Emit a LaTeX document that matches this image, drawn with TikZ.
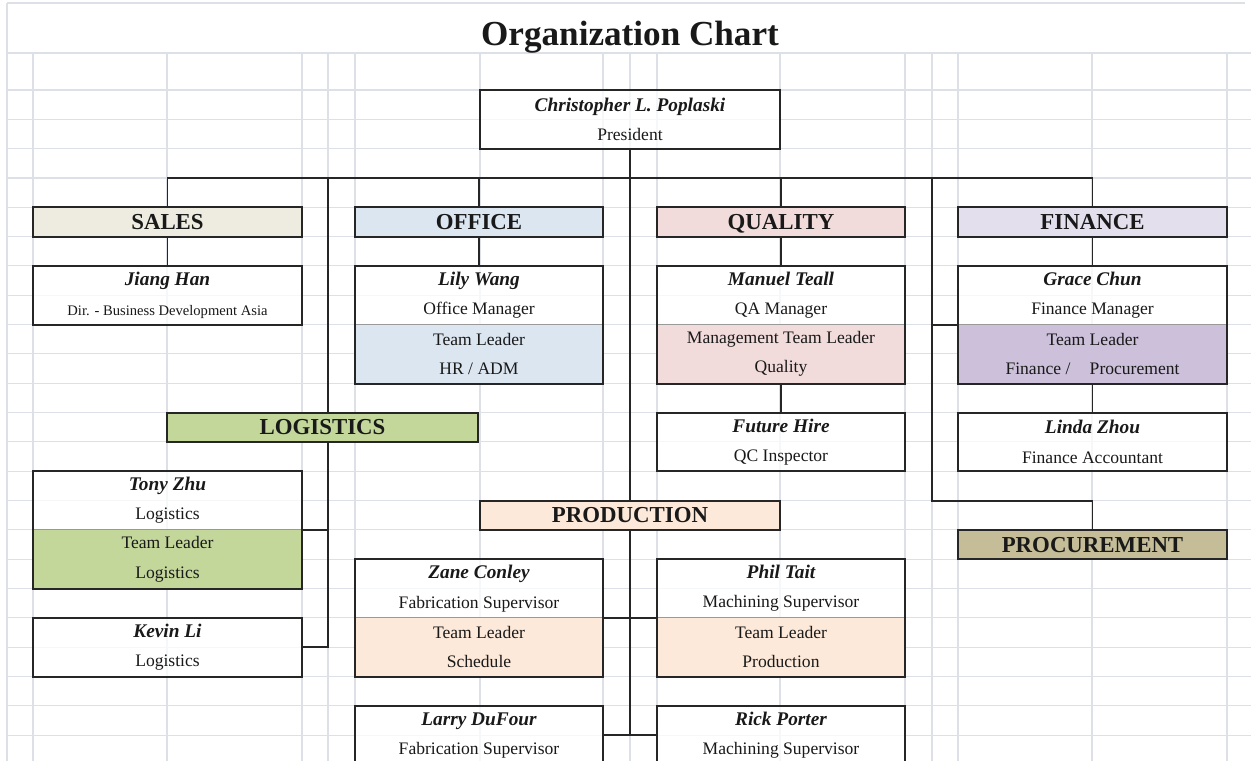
\documentclass[tikz,border=0pt]{standalone}
\usepackage{fontspec}
\setmainfont{Liberation Serif}
\usetikzlibrary{positioning}
\usetikzlibrary{fit}

\definecolor{gridgray}{RGB}{222,224,231}
\definecolor{linegray}{RGB}{38,38,38}
\definecolor{salesfill}{RGB}{238,236,225}
\definecolor{officefill}{RGB}{220,230,241}
\definecolor{qualfill}{RGB}{242,220,219}
\definecolor{finfill}{RGB}{228,223,236}
\definecolor{finTLfill}{RGB}{204,192,218}
\definecolor{logfill}{RGB}{196,215,155}
\definecolor{prodfill}{RGB}{253,233,217}
\definecolor{procfill}{RGB}{196,189,151}

\newcommand{\empname}[1]{{\fontsize{11}{16.63}\selectfont\bfseries\itshape #1}}

\tikzset{
	gridline/.style={draw=gridgray, line width=0.6pt},
	conn/.style={draw=linegray, line width=1.1pt},
	divider/.style={draw=gray!80, line width=0.5pt},
	dept/.style={draw=linegray, line width=1.1pt, inner sep=0pt, minimum height=0.5867cm, text height=9.7pt, text depth=1pt, text=black!90, font=\fontsize{13}{15}\selectfont\bfseries},
	pbox/.style={inner sep=0pt, minimum height=1.1733cm, align=center, text=black!90, font=\fontsize{10}{16.63}\selectfont},
	blank/.style={fill=white, fill opacity=0.75, text opacity=1},
	framed/.style={blank, draw=linegray, draw opacity=1, line width=1.1pt},
	pframe/.style={draw=linegray, line width=1.1pt, inner sep=0pt},
	colA/.style={minimum width=5.38cm},
	colB/.style={minimum width=4.96cm},
	prodw/.style={minimum width=6cm}
}

\begin{document}
\begin{tikzpicture}[x=0.02cm, y=-0.58667cm]
		\useasboundingbox (0,-3.0682) rectangle (1251,22.875);
		\clip (0,-3.0682) rectangle (1251,22.875);
		\fill[white] (0,-3.0682) rectangle (1251,22.875);
		\draw[gridline] (7,-2.966) -- (1245,-2.966);
		\draw[gridline] (7,-2.966) -- (7,22.875);
		\draw[gridline] (7,-1.2614) -- (1251,-1.2614);
		\foreach \r in {0,...,22}
			\draw[gridline] (7,\r) -- (1251,\r);
		\foreach \c in {33,167,302,328,355,480,603,630,657,780,905,932,958,1092,1227}
			\draw[gridline] (\c,-1.2614) -- (\c,22.875);
		\node[anchor=base, text=black!90, font=\fontsize{20}{24}\selectfont\bfseries] (title) at (630,-1.534) {Organization Chart};
		\node[pbox, prodw, framed] (president) at (630,1) {\empname{Christopher L. Poplaski}\\President};
		\node[dept, colA, fill=salesfill] (sales) at (167.5,4.5) {SALES};
		\node[dept, colB, fill=officefill] (office) at (479,4.5) {OFFICE};
		\node[dept, colB, fill=qualfill] (quality) at (781,4.5) {QUALITY};
		\node[dept, colA, fill=finfill] (finance) at (1092.5,4.5) {FINANCE};
		\node[pbox, colA, framed] (jiang) at (167.5,7) {\empname{Jiang Han}\\{\fontsize{8.3}{16.63}\selectfont Dir. - Business Development Asia}};
		\node[pbox, colB, blank] (lily) at (479,7) {\empname{Lily Wang}\\Office Manager};
		\node[pbox, colB, fill=officefill] (lilyTL) at (479,9) {Team Leader\\HR / ADM};
		\draw[divider] (lilyTL.north west) -- (lilyTL.north east);
		\node[pframe, fit=(lily)(lilyTL)] (lilyBox) {};
		\node[pbox, colB, blank] (manuel) at (781,7) {\empname{Manuel Teall}\\QA Manager};
		\node[pbox, colB, fill=qualfill] (manuelTL) at (781,9) {Management Team Leader\\Quality};
		\draw[divider] (manuelTL.north west) -- (manuelTL.north east);
		\node[pframe, fit=(manuel)(manuelTL)] (manuelBox) {};
		\node[pbox, colA, blank] (grace) at (1092.5,7) {\empname{Grace Chun}\\Finance Manager};
		\node[pbox, colA, fill=finTLfill] (graceTL) at (1092.5,9) {Team Leader\\Finance /\hspace{11pt}Procurement};
		\draw[divider] (graceTL.north west) -- (graceTL.north east);
		\node[pframe, fit=(grace)(graceTL)] (graceBox) {};
		\node[pbox, colB, framed] (future) at (781,12) {\empname{Future Hire}\\QC Inspector};
		\node[pbox, colA, framed] (linda) at (1092.5,12) {\empname{Linda Zhou}\\Finance Accountant};
		\node[dept, minimum width=6.22cm, fill=logfill] (logistics) at (322.5,11.5) {LOGISTICS};
		\node[pbox, colA, blank] (tony) at (167.5,14) {\empname{Tony Zhu}\\Logistics};
		\node[pbox, colA, fill=logfill] (tonyTL) at (167.5,16) {Team Leader\\Logistics};
		\draw[divider] (tonyTL.north west) -- (tonyTL.north east);
		\node[pframe, fit=(tony)(tonyTL)] (tonyBox) {};
		\node[pbox, colA, framed] (kevin) at (167.5,19) {\empname{Kevin Li}\\Logistics};
		\node[dept, prodw, fill=prodfill] (production) at (630,14.5) {PRODUCTION};
		\node[dept, colA, fill=procfill] (procurement) at (1092.5,15.5) {PROCUREMENT};
		\node[pbox, colB, blank] (zane) at (479,17) {\empname{Zane Conley}\\Fabrication Supervisor};
		\node[pbox, colB, fill=prodfill] (zaneTL) at (479,19) {Team Leader\\Schedule};
		\draw[divider] (zaneTL.north west) -- (zaneTL.north east);
		\node[pframe, fit=(zane)(zaneTL)] (zaneBox) {};
		\node[pbox, colB, blank] (phil) at (781,17) {\empname{Phil Tait}\\Machining Supervisor};
		\node[pbox, colB, fill=prodfill] (philTL) at (781,19) {Team Leader\\Production};
		\draw[divider] (philTL.north west) -- (philTL.north east);
		\node[pframe, fit=(phil)(philTL)] (philBox) {};
		\node[pbox, colB, framed] (larry) at (479,22) {\empname{Larry DuFour}\\Fabrication Supervisor};
		\node[pbox, colB, framed] (rick) at (781,22) {\empname{Rick Porter}\\Machining Supervisor};
		\coordinate (bar) at (630,3);
		\coordinate (logspine) at (328,3);
		\coordinate (finspine) at (932,3);
		\coordinate (procturn) at (932,14);
		\draw[conn] (president.south) -- (production.north);
		\draw[conn] (sales.north) |- (bar) -| (finance.north);
		\draw[conn] (office.north) -- (office.north |- bar);
		\draw[conn] (quality.north) -- (quality.north |- bar);
		\draw[conn] (sales.south) -- (jiang.north);
		\draw[conn] (office.south) -- (lily.north);
		\draw[conn] (quality.south) -- (manuel.north);
		\draw[conn] (finance.south) -- (grace.north);
		\draw[conn] (manuelTL.south) -- (future.north);
		\draw[conn] (graceTL.south) -- (linda.north);
		\draw[conn] (logspine) -- (logspine |- logistics.north);
		\draw[conn] (logspine |- logistics.south) -- (logspine |- kevin.east) -- (kevin.east);
		\draw[conn] (logspine |- tony.south east) -- (tony.south east);
		\draw[conn] (finspine) -- (procturn) -| (procurement.north);
		\draw[conn] (finspine |- grace.south west) -- (grace.south west);
		\draw[conn] (production.south) -- (production.south |- larry.east);
		\draw[conn] (zane.south east) -- (phil.south west);
		\draw[conn] (larry.east) -- (rick.west);
\end{tikzpicture}
\end{document}
